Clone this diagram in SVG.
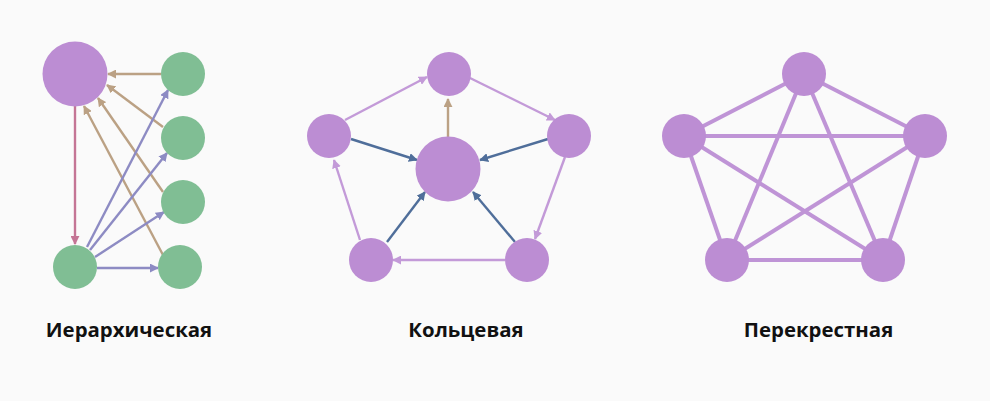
<svg xmlns="http://www.w3.org/2000/svg" width="990" height="401" viewBox="0 0 990 401">
<style>
.bg{fill:#fafafa}
.p{fill:#bc8dd3}
.g{fill:#80be94}
.lbl{font-family:"Open Sans","Noto Sans","DejaVu Sans",sans-serif;font-weight:700;font-size:20.4px;fill:#111;text-anchor:middle}
.a{fill:none;stroke-width:2.4}
.red{stroke:#c47595}
.tan{stroke:#bba184}
.bp{stroke:#8d8bc3}
.lp{stroke:#c39ad8}
.db{stroke:#4f6e9a}
.x{stroke:#bf94d6;stroke-width:4;fill:none}
</style>
<defs>
<marker id="mRed" viewBox="0 0 10 10" refX="9" refY="5" markerWidth="9" markerHeight="9" markerUnits="userSpaceOnUse" orient="auto"><path d="M0,0 L10,5 L0,10 z" fill="#c47595"/></marker>
<marker id="mTan" viewBox="0 0 10 10" refX="9" refY="5" markerWidth="9" markerHeight="9" markerUnits="userSpaceOnUse" orient="auto"><path d="M0,0 L10,5 L0,10 z" fill="#bba184"/></marker>
<marker id="mBp" viewBox="0 0 10 10" refX="9" refY="5" markerWidth="9" markerHeight="9" markerUnits="userSpaceOnUse" orient="auto"><path d="M0,0 L10,5 L0,10 z" fill="#8d8bc3"/></marker>
<marker id="mLp" viewBox="0 0 10 10" refX="9" refY="5" markerWidth="9" markerHeight="9" markerUnits="userSpaceOnUse" orient="auto"><path d="M0,0 L10,5 L0,10 z" fill="#c39ad8"/></marker>
<marker id="mDb" viewBox="0 0 10 10" refX="9" refY="5" markerWidth="9" markerHeight="9" markerUnits="userSpaceOnUse" orient="auto"><path d="M0,0 L10,5 L0,10 z" fill="#4f6e9a"/></marker>
</defs>
<rect class="bg" x="0" y="0" width="990" height="401"/>

<g id="connectors">
<!-- hierarchical -->
<line class="a red" x1="75" y1="106" x2="75" y2="244" marker-end="url(#mRed)"/>
<line class="a tan" x1="161" y1="74" x2="108" y2="74" marker-end="url(#mTan)"/>
<line class="a tan" x1="163" y1="127" x2="107" y2="85" marker-end="url(#mTan)"/>
<line class="a tan" x1="163" y1="192" x2="98" y2="98" marker-end="url(#mTan)"/>
<line class="a tan" x1="163" y1="255" x2="84" y2="106" marker-end="url(#mTan)"/>
<line class="a bp" x1="87" y1="247" x2="168" y2="90" marker-end="url(#mBp)"/>
<line class="a bp" x1="90" y1="250" x2="167" y2="153" marker-end="url(#mBp)"/>
<line class="a bp" x1="95" y1="257" x2="164" y2="212" marker-end="url(#mBp)"/>
<line class="a bp" x1="97" y1="268" x2="158" y2="268" marker-end="url(#mBp)"/>
<!-- ring -->
<line class="a lp" x1="345" y1="120" x2="427" y2="77" marker-end="url(#mLp)"/>
<line class="a lp" x1="470" y1="78" x2="555" y2="120" marker-end="url(#mLp)"/>
<line class="a lp" x1="565" y1="157" x2="535" y2="239" marker-end="url(#mLp)"/>
<line class="a lp" x1="505" y1="260" x2="393" y2="260" marker-end="url(#mLp)"/>
<line class="a lp" x1="360" y1="240" x2="334" y2="160" marker-end="url(#mLp)"/>
<line class="a tan" x1="448" y1="137" x2="448" y2="99" marker-end="url(#mTan)"/>
<line class="a db" x1="351" y1="139" x2="417" y2="160" marker-end="url(#mDb)"/>
<line class="a db" x1="548" y1="139" x2="480" y2="160" marker-end="url(#mDb)"/>
<line class="a db" x1="387" y1="242" x2="425" y2="192" marker-end="url(#mDb)"/>
<line class="a db" x1="515" y1="242" x2="473" y2="192" marker-end="url(#mDb)"/>
<!-- cross -->
<line class="x" x1="804" y1="74" x2="684" y2="136"/>
<line class="x" x1="804" y1="74" x2="925" y2="136"/>
<line class="x" x1="804" y1="74" x2="727" y2="260"/>
<line class="x" x1="804" y1="74" x2="883" y2="260"/>
<line class="x" x1="684" y1="136" x2="925" y2="136"/>
<line class="x" x1="684" y1="136" x2="727" y2="260"/>
<line class="x" x1="684" y1="136" x2="883" y2="260"/>
<line class="x" x1="925" y1="136" x2="727" y2="260"/>
<line class="x" x1="925" y1="136" x2="883" y2="260"/>
<line class="x" x1="727" y1="260" x2="883" y2="260"/>
</g>

<g id="h-root"><circle class="p" cx="75" cy="74" r="32.5"/></g>
<g id="h-r1"><circle class="g" cx="183" cy="74" r="22"/></g>
<g id="h-r2"><circle class="g" cx="183" cy="138" r="22"/></g>
<g id="h-r3"><circle class="g" cx="183" cy="202" r="22"/></g>
<g id="h-r4"><circle class="g" cx="180" cy="267" r="22"/></g>
<g id="h-bl"><circle class="g" cx="75" cy="267" r="22"/></g>

<g id="r-center"><circle class="p" cx="448" cy="169" r="32.5"/></g>
<g id="r-top"><circle class="p" cx="449" cy="74" r="22"/></g>
<g id="r-left"><circle class="p" cx="329" cy="136" r="22"/></g>
<g id="r-right"><circle class="p" cx="569" cy="136" r="22"/></g>
<g id="r-bl"><circle class="p" cx="371" cy="260" r="22"/></g>
<g id="r-br"><circle class="p" cx="527" cy="260" r="22"/></g>

<g id="c-top"><circle class="p" cx="804" cy="74" r="22"/></g>
<g id="c-left"><circle class="p" cx="684" cy="136" r="22"/></g>
<g id="c-right"><circle class="p" cx="925" cy="136" r="22"/></g>
<g id="c-bl"><circle class="p" cx="727" cy="260" r="22"/></g>
<g id="c-br"><circle class="p" cx="883" cy="260" r="22"/></g>

<g id="labels">
<text class="lbl" x="129" y="337">Иерархическая</text>
<text class="lbl" x="466" y="337">Кольцевая</text>
<text class="lbl" x="818.5" y="337">Перекрестная</text>
</g>
</svg>
